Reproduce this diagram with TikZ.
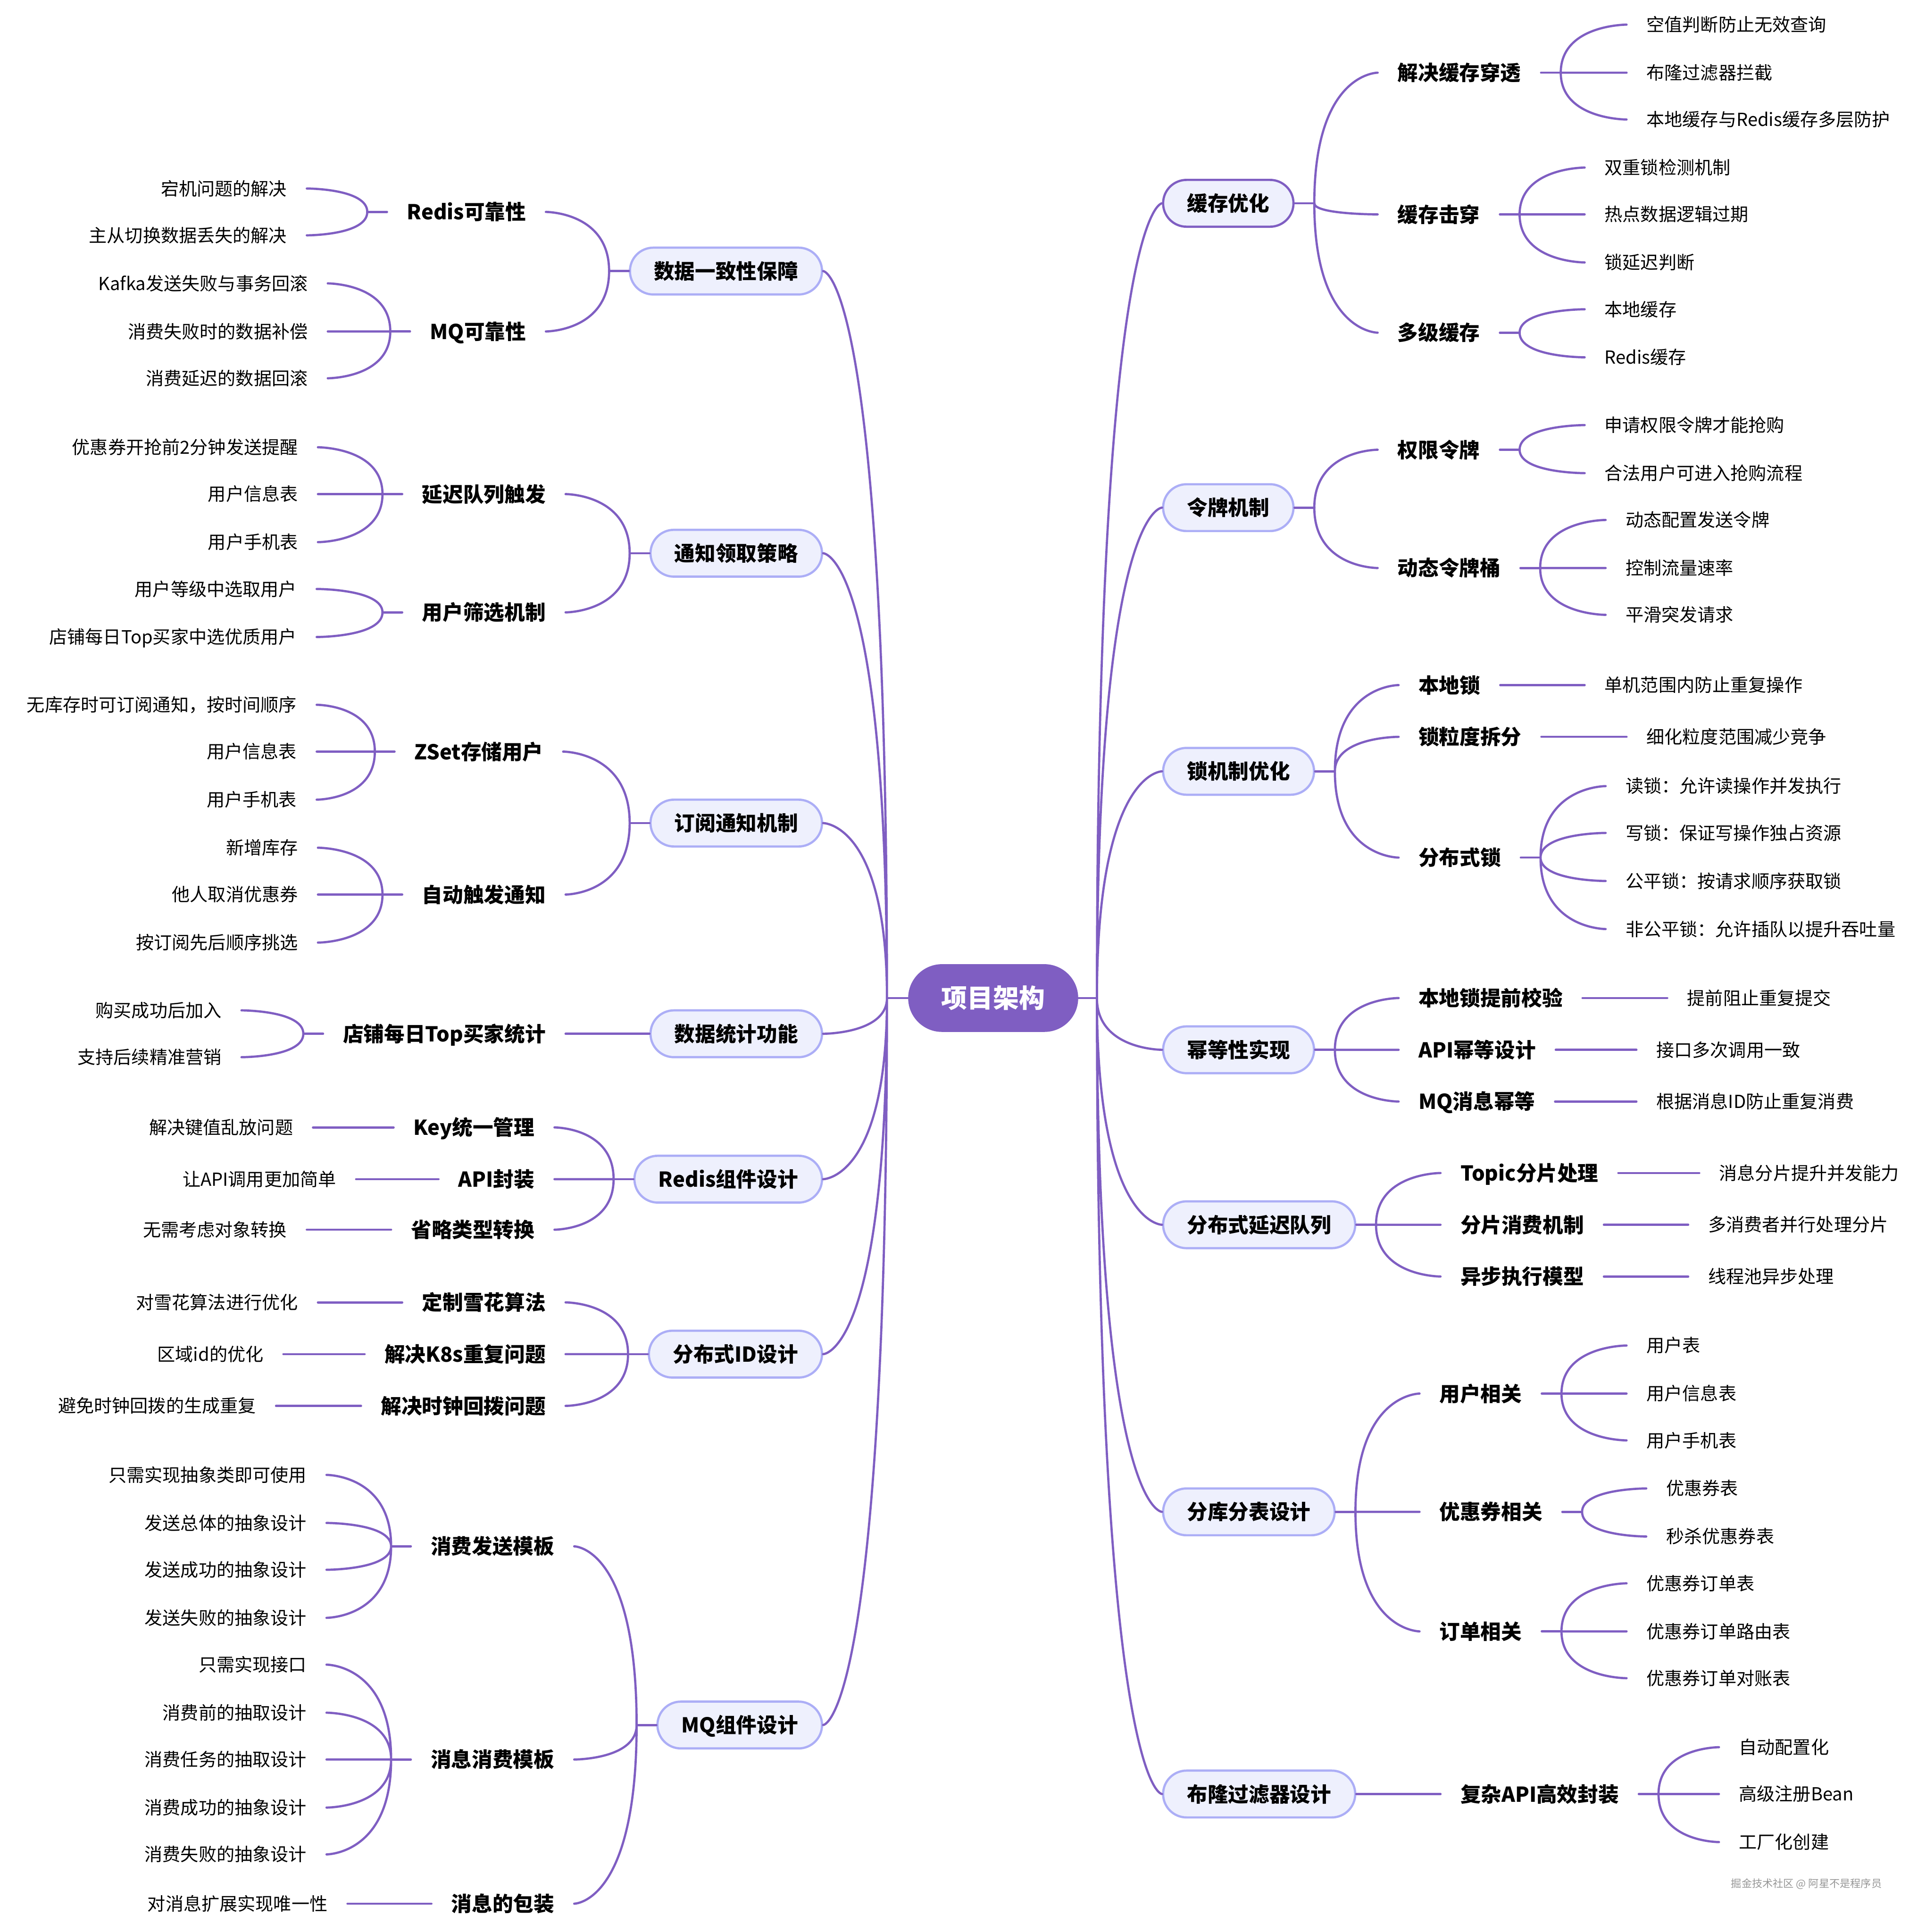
\documentclass[tikz,border=0pt]{standalone}
\usepackage{fontspec}
\setmainfont{Noto Sans CJK SC}
\definecolor{mmpurple}{RGB}{127,94,194}
\definecolor{mmlav}{RGB}{172,174,246}
\definecolor{mmfill}{RGB}{238,240,253}
\definecolor{mmmark}{RGB}{150,150,150}
\begin{document}
\begin{tikzpicture}[x=1pt, y=-1pt,
    rootnode/.style={fill=mmpurple, text=white, rounded corners=27.5pt, minimum height=55pt, inner xsep=27pt, inner ysep=0pt, font=\bfseries\fontsize{21pt}{25pt}\selectfont, text height=18.5pt, text depth=2.5pt},
    topicnode/.style={draw=mmlav, fill=mmfill, line width=1.8pt, rounded corners=19pt, minimum height=38pt, inner xsep=19.5pt, inner ysep=0pt, font=\bfseries\fontsize{16.7pt}{20pt}\selectfont, text height=14.7pt, text depth=2pt},
    subnode/.style={inner xsep=16pt, inner ysep=0pt, font=\bfseries\fontsize{16.7pt}{20pt}\selectfont, text height=14.7pt, text depth=2pt},
    leafnode/.style={inner xsep=16pt, inner ysep=0pt, font=\fontsize{14.6pt}{17pt}\selectfont, text height=12.8pt, text depth=1.8pt},
    rsub/.style={subnode, anchor=west}, lsub/.style={subnode, anchor=east},
    rleaf/.style={leafnode, anchor=west}, lleaf/.style={leafnode, anchor=east},
    link/.style={draw=mmpurple, line width=1.8pt, line cap=round},
    branch/.style={link, to path={.. controls (\tikztostart |- \tikztotarget) and (\tikztotarget) .. (\tikztotarget)}}]
  \useasboundingbox (0,0) rectangle (1563,1568);

  \node[rootnode] (root) at (806,810) {项目架构};
  \draw[link] (root.east) -- ++(15,0) coordinate (jr);
  \draw[link] (root.west) -- ++(-17,0) coordinate (jl);

  \node[topicnode, anchor=west, draw=mmpurple] (cache) at (943,165) {缓存优化};
  \node[topicnode, anchor=west] (token) at (943,412) {令牌机制};
  \node[topicnode, anchor=west] (lock)  at (943,626) {锁机制优化};
  \node[topicnode, anchor=west] (idem)  at (943,852) {幂等性实现};
  \node[topicnode, anchor=west] (delay) at (943,994) {分布式延迟队列};
  \node[topicnode, anchor=west] (shard) at (943,1227) {分库分表设计};
  \node[topicnode, anchor=west] (bloom) at (943,1456) {布隆过滤器设计};
  \draw[branch] (jr) to (cache.west) (jr) to (token.west) (jr) to (lock.west) (jr) to (idem.west)
                (jr) to (delay.west) (jr) to (shard.west) (jr) to (bloom.west);

  \node[topicnode, anchor=east] (consist) at (668,220) {数据一致性保障};
  \node[topicnode, anchor=east] (notify)  at (668,449) {通知领取策略};
  \node[topicnode, anchor=east] (subscr)  at (668,668) {订阅通知机制};
  \node[topicnode, anchor=east] (stats)   at (668,839) {数据统计功能};
  \node[topicnode, anchor=east] (rcomp)   at (668,957) {Redis组件设计};
  \node[topicnode, anchor=east] (dist)    at (668,1099) {分布式ID设计};
  \node[topicnode, anchor=east] (mq)      at (668,1400) {MQ组件设计};
  \draw[branch] (jl) to (consist.east) (jl) to (notify.east) (jl) to (subscr.east) (jl) to (stats.east)
                (jl) to (rcomp.east) (jl) to (dist.east) (jl) to (mq.east);

  \node[rsub] (cache1) at (1118,59)  {解决缓存穿透};
  \node[rsub] (cache2) at (1118,174) {缓存击穿};
  \node[rsub] (cache3) at (1118,270) {多级缓存};
  \draw[link] (cache.east) -- ++(16,0) coordinate (jcache);
  \draw[branch] (jcache) to (cache1.west) (jcache) to (cache2.west) (jcache) to (cache3.west);
  \node[rleaf] (cache1a) at (1320,20) {空值判断防止无效查询};
  \node[rleaf] (cache1b) at (1320,59) {布隆过滤器拦截};
  \node[rleaf] (cache1c) at (1320,97) {本地缓存与Redis缓存多层防护};
  \draw[link] (cache1.east) -- ++(16,0) coordinate (jcache1);
  \draw[branch] (jcache1) to (cache1a.west) (jcache1) to (cache1b.west) (jcache1) to (cache1c.west);
  \node[rleaf] (cache2a) at (1286,136) {双重锁检测机制};
  \node[rleaf] (cache2b) at (1286,174) {热点数据逻辑过期};
  \node[rleaf] (cache2c) at (1286,213) {锁延迟判断};
  \draw[link] (cache2.east) -- ++(16,0) coordinate (jcache2);
  \draw[branch] (jcache2) to (cache2a.west) (jcache2) to (cache2b.west) (jcache2) to (cache2c.west);
  \node[rleaf] (cache3a) at (1286,251) {本地缓存};
  \node[rleaf] (cache3b) at (1286,290) {Redis缓存};
  \draw[link] (cache3.east) -- ++(16,0) coordinate (jcache3);
  \draw[branch] (jcache3) to (cache3a.west) (jcache3) to (cache3b.west);

  \node[rsub] (token1) at (1118,365) {权限令牌};
  \node[rsub] (token2) at (1118,461) {动态令牌桶};
  \draw[link] (token.east) -- ++(16,0) coordinate (jtoken);
  \draw[branch] (jtoken) to (token1.west) (jtoken) to (token2.west);
  \node[rleaf] (token1a) at (1286,345) {申请权限令牌才能抢购};
  \node[rleaf] (token1b) at (1286,384) {合法用户可进入抢购流程};
  \draw[link] (token1.east) -- ++(16,0) coordinate (jtoken1);
  \draw[branch] (jtoken1) to (token1a.west) (jtoken1) to (token1b.west);
  \node[rleaf] (token2a) at (1303,422) {动态配置发送令牌};
  \node[rleaf] (token2b) at (1303,461) {控制流量速率};
  \node[rleaf] (token2c) at (1303,499) {平滑突发请求};
  \draw[link] (token2.east) -- ++(16,0) coordinate (jtoken2);
  \draw[branch] (jtoken2) to (token2a.west) (jtoken2) to (token2b.west) (jtoken2) to (token2c.west);

  \node[rsub] (lock1) at (1135,556) {本地锁};
  \node[rsub] (lock2) at (1135,598) {锁粒度拆分};
  \node[rsub] (lock3) at (1135,696) {分布式锁};
  \draw[link] (lock.east) -- ++(16,0) coordinate (jlock);
  \draw[branch] (jlock) to (lock1.west) (jlock) to (lock2.west) (jlock) to (lock3.west);
  \node[rleaf] (lock1a) at (1286,556) {单机范围内防止重复操作};
  \draw[link] (lock1.east) -- ++(16,0) coordinate (jlock1);
  \draw[branch] (jlock1) to (lock1a.west);
  \node[rleaf] (lock2a) at (1320,598) {细化粒度范围减少竞争};
  \draw[link] (lock2.east) -- ++(16,0) coordinate (jlock2);
  \draw[branch] (jlock2) to (lock2a.west);
  \node[rleaf] (lock3a) at (1303,638) {读锁：允许读操作并发执行};
  \node[rleaf] (lock3b) at (1303,676) {写锁：保证写操作独占资源};
  \node[rleaf] (lock3c) at (1303,715) {公平锁：按请求顺序获取锁};
  \node[rleaf] (lock3d) at (1303,754) {非公平锁：允许插队以提升吞吐量};
  \draw[link] (lock3.east) -- ++(16,0) coordinate (jlock3);
  \draw[branch] (jlock3) to (lock3a.west) (jlock3) to (lock3b.west) (jlock3) to (lock3c.west) (jlock3) to (lock3d.west);

  \node[rsub] (idem1) at (1135,810) {本地锁提前校验};
  \node[rsub] (idem2) at (1135,852) {API幂等设计};
  \node[rsub] (idem3) at (1135,894) {MQ消息幂等};
  \draw[link] (idem.east) -- ++(16,0) coordinate (jidem);
  \draw[branch] (jidem) to (idem1.west) (jidem) to (idem2.west) (jidem) to (idem3.west);
  \node[rleaf] (idem1a) at (1353,810) {提前阻止重复提交};
  \draw[link] (idem1.east) -- ++(16,0) coordinate (jidem1);
  \draw[branch] (jidem1) to (idem1a.west);
  \node[rleaf] (idem2a) at (1328,852) {接口多次调用一致};
  \draw[link] (idem2.east) -- ++(16,0) coordinate (jidem2);
  \draw[branch] (jidem2) to (idem2a.west);
  \node[rleaf] (idem3a) at (1328,894) {根据消息ID防止重复消费};
  \draw[link] (idem3.east) -- ++(16,0) coordinate (jidem3);
  \draw[branch] (jidem3) to (idem3a.west);

  \node[rsub] (delay1) at (1169,952)  {Topic分片处理};
  \node[rsub] (delay2) at (1169,994)  {分片消费机制};
  \node[rsub] (delay3) at (1169,1036) {异步执行模型};
  \draw[link] (delay.east) -- ++(16,0) coordinate (jdelay);
  \draw[branch] (jdelay) to (delay1.west) (jdelay) to (delay2.west) (jdelay) to (delay3.west);
  \node[rleaf] (delay1a) at (1379,952) {消息分片提升并发能力};
  \draw[link] (delay1.east) -- ++(16,0) coordinate (jdelay1);
  \draw[branch] (jdelay1) to (delay1a.west);
  \node[rleaf] (delay2a) at (1370,994) {多消费者并行处理分片};
  \draw[link] (delay2.east) -- ++(16,0) coordinate (jdelay2);
  \draw[branch] (jdelay2) to (delay2a.west);
  \node[rleaf] (delay3a) at (1370,1036) {线程池异步处理};
  \draw[link] (delay3.east) -- ++(16,0) coordinate (jdelay3);
  \draw[branch] (jdelay3) to (delay3a.west);

  \node[rsub] (shard1) at (1152,1131) {用户相关};
  \node[rsub] (shard2) at (1152,1227) {优惠券相关};
  \node[rsub] (shard3) at (1152,1324) {订单相关};
  \draw[link] (shard.east) -- ++(16,0) coordinate (jshard);
  \draw[branch] (jshard) to (shard1.west) (jshard) to (shard2.west) (jshard) to (shard3.west);
  \node[rleaf] (shard1a) at (1320,1092) {用户表};
  \node[rleaf] (shard1b) at (1320,1131) {用户信息表};
  \node[rleaf] (shard1c) at (1320,1169) {用户手机表};
  \draw[link] (shard1.east) -- ++(16,0) coordinate (jshard1);
  \draw[branch] (jshard1) to (shard1a.west) (jshard1) to (shard1b.west) (jshard1) to (shard1c.west);
  \node[rleaf] (shard2a) at (1336,1208) {优惠券表};
  \node[rleaf] (shard2b) at (1336,1247) {秒杀优惠券表};
  \draw[link] (shard2.east) -- ++(16,0) coordinate (jshard2);
  \draw[branch] (jshard2) to (shard2a.west) (jshard2) to (shard2b.west);
  \node[rleaf] (shard3a) at (1320,1285) {优惠券订单表};
  \node[rleaf] (shard3b) at (1320,1324) {优惠券订单路由表};
  \node[rleaf] (shard3c) at (1320,1362) {优惠券订单对账表};
  \draw[link] (shard3.east) -- ++(16,0) coordinate (jshard3);
  \draw[branch] (jshard3) to (shard3a.west) (jshard3) to (shard3b.west) (jshard3) to (shard3c.west);

  \node[rsub] (bloom1) at (1169,1456) {复杂API高效封装};
  \draw[link] (bloom.east) -- ++(16,0) coordinate (jbloom);
  \draw[branch] (jbloom) to (bloom1.west);
  \node[rleaf] (bloom1a) at (1395,1418) {自动配置化};
  \node[rleaf] (bloom1b) at (1395,1456) {高级注册Bean};
  \node[rleaf] (bloom1c) at (1395,1495) {工厂化创建};
  \draw[link] (bloom1.east) -- ++(16,0) coordinate (jbloom1);
  \draw[branch] (jbloom1) to (bloom1a.west) (jbloom1) to (bloom1b.west) (jbloom1) to (bloom1c.west);

  \node[lsub] (consist1) at (443,172) {Redis可靠性};
  \node[lsub] (consist2) at (443,269) {MQ可靠性};
  \draw[link] (consist.west) -- ++(-16,0) coordinate (jconsist);
  \draw[branch] (jconsist) to (consist1.east) (jconsist) to (consist2.east);
  \node[lleaf] (consist1a) at (249,153) {宕机问题的解决};
  \node[lleaf] (consist1b) at (249,191) {主从切换数据丢失的解决};
  \draw[link] (consist1.west) -- ++(-16,0) coordinate (jconsist1);
  \draw[branch] (jconsist1) to (consist1a.east) (jconsist1) to (consist1b.east);
  \node[lleaf] (consist2a) at (266,230) {Kafka发送失败与事务回滚};
  \node[lleaf] (consist2b) at (266,269) {消费失败时的数据补偿};
  \node[lleaf] (consist2c) at (266,307) {消费延迟的数据回滚};
  \draw[link] (consist2.west) -- ++(-16,0) coordinate (jconsist2);
  \draw[branch] (jconsist2) to (consist2a.east) (jconsist2) to (consist2b.east) (jconsist2) to (consist2c.east);

  \node[lsub] (notify1) at (459,401) {延迟队列触发};
  \node[lsub] (notify2) at (459,497) {用户筛选机制};
  \draw[link] (notify.west) -- ++(-16,0) coordinate (jnotify);
  \draw[branch] (jnotify) to (notify1.east) (jnotify) to (notify2.east);
  \node[lleaf] (notify1a) at (258,363) {优惠券开抢前2分钟发送提醒};
  \node[lleaf] (notify1b) at (258,401) {用户信息表};
  \node[lleaf] (notify1c) at (258,440) {用户手机表};
  \draw[link] (notify1.west) -- ++(-16,0) coordinate (jnotify1);
  \draw[branch] (jnotify1) to (notify1a.east) (jnotify1) to (notify1b.east) (jnotify1) to (notify1c.east);
  \node[lleaf] (notify2a) at (257,478) {用户等级中选取用户};
  \node[lleaf] (notify2b) at (257,517) {店铺每日Top买家中选优质用户};
  \draw[link] (notify2.west) -- ++(-16,0) coordinate (jnotify2);
  \draw[branch] (jnotify2) to (notify2a.east) (jnotify2) to (notify2b.east);

  \node[lsub] (subscr1) at (457,610) {ZSet存储用户};
  \node[lsub] (subscr2) at (459,726) {自动触发通知};
  \draw[link] (subscr.west) -- ++(-16,0) coordinate (jsubscr);
  \draw[branch] (jsubscr) to (subscr1.east) (jsubscr) to (subscr2.east);
  \node[lleaf] (subscr1a) at (257,572) {无库存时可订阅通知，按时间顺序};
  \node[lleaf] (subscr1b) at (257,610) {用户信息表};
  \node[lleaf] (subscr1c) at (257,649) {用户手机表};
  \draw[link] (subscr1.west) -- ++(-16,0) coordinate (jsubscr1);
  \draw[branch] (jsubscr1) to (subscr1a.east) (jsubscr1) to (subscr1b.east) (jsubscr1) to (subscr1c.east);
  \node[lleaf] (subscr2a) at (258,688) {新增库存};
  \node[lleaf] (subscr2b) at (258,726) {他人取消优惠券};
  \node[lleaf] (subscr2c) at (258,765) {按订阅先后顺序挑选};
  \draw[link] (subscr2.west) -- ++(-16,0) coordinate (jsubscr2);
  \draw[branch] (jsubscr2) to (subscr2a.east) (jsubscr2) to (subscr2b.east) (jsubscr2) to (subscr2c.east);

  \node[lsub] (stats1) at (459,839) {店铺每日Top买家统计};
  \draw[link] (stats.west) -- ++(-16,0) coordinate (jstats);
  \draw[branch] (jstats) to (stats1.east);
  \node[lleaf] (stats1a) at (196,820) {购买成功后加入};
  \node[lleaf] (stats1b) at (196,858) {支持后续精准营销};
  \draw[link] (stats1.west) -- ++(-16,0) coordinate (jstats1);
  \draw[branch] (jstats1) to (stats1a.east) (jstats1) to (stats1b.east);

  \node[lsub] (rcomp1) at (450,915) {Key统一管理};
  \node[lsub] (rcomp2) at (450,957) {API封装};
  \node[lsub] (rcomp3) at (450,998) {省略类型转换};
  \draw[link] (rcomp.west) -- ++(-16,0) coordinate (jrcomp);
  \draw[branch] (jrcomp) to (rcomp1.east) (jrcomp) to (rcomp2.east) (jrcomp) to (rcomp3.east);
  \node[lleaf] (rcomp1a) at (254,915) {解决键值乱放问题};
  \draw[link] (rcomp1.west) -- ++(-16,0) coordinate (jrcomp1);
  \draw[branch] (jrcomp1) to (rcomp1a.east);
  \node[lleaf] (rcomp2a) at (289,957) {让API调用更加简单};
  \draw[link] (rcomp2.west) -- ++(-16,0) coordinate (jrcomp2);
  \draw[branch] (jrcomp2) to (rcomp2a.east);
  \node[lleaf] (rcomp3a) at (249,998) {无需考虑对象转换};
  \draw[link] (rcomp3.west) -- ++(-16,0) coordinate (jrcomp3);
  \draw[branch] (jrcomp3) to (rcomp3a.east);

  \node[lsub] (dist1) at (459,1057) {定制雪花算法};
  \node[lsub] (dist2) at (459,1099) {解决K8s重复问题};
  \node[lsub] (dist3) at (459,1141) {解决时钟回拨问题};
  \draw[link] (dist.west) -- ++(-16,0) coordinate (jdist);
  \draw[branch] (jdist) to (dist1.east) (jdist) to (dist2.east) (jdist) to (dist3.east);
  \node[lleaf] (dist1a) at (258,1057) {对雪花算法进行优化};
  \draw[link] (dist1.west) -- ++(-16,0) coordinate (jdist1);
  \draw[branch] (jdist1) to (dist1a.east);
  \node[lleaf] (dist2a) at (230,1099) {区域id的优化};
  \draw[link] (dist2.west) -- ++(-16,0) coordinate (jdist2);
  \draw[branch] (jdist2) to (dist2a.east);
  \node[lleaf] (dist3a) at (224,1141) {避免时钟回拨的生成重复};
  \draw[link] (dist3.west) -- ++(-16,0) coordinate (jdist3);
  \draw[branch] (jdist3) to (dist3a.east);

  \node[lsub] (mq1) at (466,1255) {消费发送模板};
  \node[lsub] (mq2) at (466,1428) {消息消费模板};
  \node[lsub] (mq3) at (466,1545) {消息的包装};
  \draw[link] (mq.west) -- ++(-16,0) coordinate (jmq);
  \draw[branch] (jmq) to (mq1.east) (jmq) to (mq2.east) (jmq) to (mq3.east);
  \node[lleaf] (mq1a) at (265,1197) {只需实现抽象类即可使用};
  \node[lleaf] (mq1b) at (265,1236) {发送总体的抽象设计};
  \node[lleaf] (mq1c) at (265,1274) {发送成功的抽象设计};
  \node[lleaf] (mq1d) at (265,1313) {发送失败的抽象设计};
  \draw[link] (mq1.west) -- ++(-16,0) coordinate (jmq1);
  \draw[branch] (jmq1) to (mq1a.east) (jmq1) to (mq1b.east) (jmq1) to (mq1c.east) (jmq1) to (mq1d.east);
  \node[lleaf] (mq2a) at (265,1351) {只需实现接口};
  \node[lleaf] (mq2b) at (265,1390) {消费前的抽取设计};
  \node[lleaf] (mq2c) at (265,1428) {消费任务的抽取设计};
  \node[lleaf] (mq2d) at (265,1467) {消费成功的抽象设计};
  \node[lleaf] (mq2e) at (265,1505) {消费失败的抽象设计};
  \draw[link] (mq2.west) -- ++(-16,0) coordinate (jmq2);
  \draw[branch] (jmq2) to (mq2a.east) (jmq2) to (mq2b.east) (jmq2) to (mq2c.east) (jmq2) to (mq2d.east) (jmq2) to (mq2e.east);
  \node[lleaf] (mq3a) at (282,1545) {对消息扩展实现唯一性};
  \draw[link] (mq3.west) -- ++(-16,0) coordinate (jmq3);
  \draw[branch] (jmq3) to (mq3a.east);

  \node[text=mmmark, font=\fontsize{8.5pt}{10pt}\selectfont] (mark) at (1466,1529) {掘金技术社区 @ 阿星不是程序员};
\end{tikzpicture}
\end{document}
